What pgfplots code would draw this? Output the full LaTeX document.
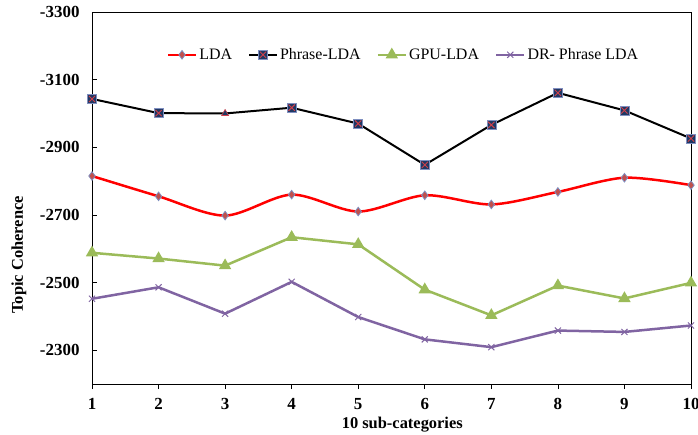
\documentclass[border=0pt]{standalone}
\usepackage{pgfplots}
\pgfplotsset{compat=1.18}
\usepackage{fontspec}
\setmainfont{Liberation Serif}
\definecolor{ldared}{HTML}{FF0000}
\definecolor{ldamark}{HTML}{C0504D}
\definecolor{ldaedge}{HTML}{7F8FC0}
\definecolor{navy}{HTML}{1F3864}
\definecolor{xred}{HTML}{D0404A}
\definecolor{gpugreen}{HTML}{9BBB59}
\definecolor{drpurple}{HTML}{8064A2}
\pgfdeclareplotmark{sqx}{%
  \pgfpathrectangle{\pgfqpoint{-\pgfplotmarksize}{-\pgfplotmarksize}}{\pgfqpoint{2\pgfplotmarksize}{2\pgfplotmarksize}}%
  \pgfusepathqfillstroke
  \begin{pgfscope}%
  \pgfsetstrokecolor{xred}%
  \pgfsetlinewidth{0.9bp}%
  \pgfpathmoveto{\pgfqpoint{-0.7\pgfplotmarksize}{-0.7\pgfplotmarksize}}%
  \pgfpathlineto{\pgfqpoint{0.7\pgfplotmarksize}{0.7\pgfplotmarksize}}%
  \pgfpathmoveto{\pgfqpoint{-0.7\pgfplotmarksize}{0.7\pgfplotmarksize}}%
  \pgfpathlineto{\pgfqpoint{0.7\pgfplotmarksize}{-0.7\pgfplotmarksize}}%
  \pgfusepathqstroke
  \end{pgfscope}%
}
\begin{document}
\begin{tikzpicture}
\path[use as bounding box] (-92bp,-51bp) rectangle (606bp,384bp);
\begin{axis}[
  at={(0,0)}, anchor=south west,
  scale only axis, width=599bp, height=372bp,
  xmin=1, xmax=10, ymin=-3300, ymax=-2200,
  y dir=reverse,
  xtick={1,...,10},
  ytick={-3300,-3100,-2900,-2700,-2500,-2300},
  axis line style={black, line width=0.9bp},
  xtick pos=bottom, ytick pos=left,
  tick align=inside,
  major tick length=5bp,
  tick style={black, line width=0.6bp},
  xtick style={yshift=-5bp},
  /pgf/number format/assume math mode=true,
  /pgf/number format/1000 sep={},
  ticklabel style={font=\bfseries\fontsize{17}{19}\selectfont},
  yticklabel style={xshift=-9bp},
  xticklabel style={yshift=-11bp},
  xlabel={10 sub-categories},
  ylabel={Topic Coherence},
  xlabel style={font=\bfseries\fontsize{16.5}{18}\selectfont, at={(axis description cs:0.518,-0.11)}, anchor=center},
  ylabel style={font=\bfseries\fontsize{16.5}{18}\selectfont, at={(axis description cs:-0.122,0.347)}, anchor=center},
  legend columns=-1,
  legend style={at={(axis description cs:0.52,0.885)}, anchor=center, draw=none, fill=none,
    font=\fontsize{16}{18}\selectfont, inner sep=0pt,
    /tikz/every even column/.append style={column sep=14bp}},
  legend image code/.code={\draw[mark repeat=2,mark phase=2,#1] plot coordinates {(0bp,0bp) (14bp,0bp) (28bp,0bp)};},
]
\addplot[ldared, line width=2.5bp, smooth, mark=diamond*, mark size=4.3bp,
  mark options={fill=ldamark, draw=ldaedge, line width=0.8bp, solid}]
  coordinates {(1,-2815) (2,-2755) (3,-2698) (4,-2760) (5,-2710) (6,-2758) (7,-2731) (8,-2768) (9,-2810) (10,-2788)};
\addlegendentry{LDA}
\addplot[black, line width=2bp, mark=sqx, mark size=4.5bp, mark indices={1,2,4,5,6,7,8,9,10},
  mark options={fill=navy, draw=ldaedge, line width=0.6bp, solid},
  legend image post style={mark indices={2}}]
  coordinates {(1,-3043) (2,-3001) (3,-3000) (4,-3017) (5,-2970) (6,-2848) (7,-2966) (8,-3061) (9,-3009) (10,-2926)};
\addlegendentry{Phrase-LDA}
\addplot[gpugreen, line width=2.5bp, mark=triangle*, mark size=4.7bp,
  mark options={fill=gpugreen, draw=gpugreen, solid}]
  coordinates {(1,-2588) (2,-2571) (3,-2550) (4,-2634) (5,-2613) (6,-2479) (7,-2403) (8,-2491) (9,-2453) (10,-2499)};
\addlegendentry{GPU-LDA}
\addplot[drpurple, line width=2.5bp, mark=x, mark size=4.3bp,
  mark options={draw=drpurple, line width=1bp, solid}]
  coordinates {(1,-2452) (2,-2486) (3,-2408) (4,-2502) (5,-2398) (6,-2332) (7,-2309) (8,-2358) (9,-2354) (10,-2373)};
\addlegendentry{DR- Phrase LDA}
\addplot[only marks, forget plot, mark=triangle*, mark size=4bp,
  mark options={fill=navy, draw=xred, line width=0.6bp}]
  coordinates {(3,-3000)};
\end{axis}
\end{tikzpicture}
\end{document}
